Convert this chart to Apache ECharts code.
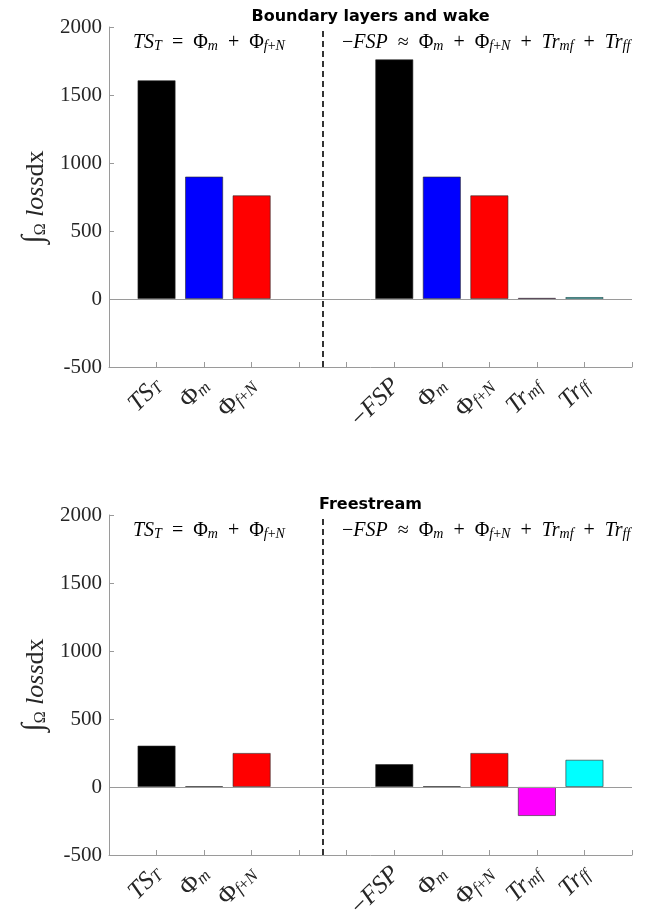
<!DOCTYPE html>
<html><head><meta charset="utf-8">
<script src="https://cdn.jsdelivr.net/npm/echarts@6/dist/echarts.min.js"></script>
<style>html,body{margin:0;padding:0;background:#fff}#c{width:648px;height:922px}</style>
</head><body><div id="c"></div>
<script>
// ---- data ----
const categories = ['TS_T', 'Phi_m', 'Phi_fN', '', '', 'mFSP', 'Phi_m', 'Phi_fN', 'Tr_mf', 'Tr_ff'];
const boundaryValues = [1608, 900, 762, null, null, 1762, 900, 762, 8, 14];
const freestreamValues = [304, 5, 250, null, null, 168, 5, 250, -213, 200];
const yTickValues = [-500, 0, 500, 1000, 1500, 2000];
const panelTitles = ['Boundary layers and wake', 'Freestream'];
const tickLabelText = {
  'TS_T': '{i|TS}{si|T}',
  'Phi_m': '{r|Φ}{si|m}',
  'Phi_fN': '{r|Φ}{si|f}{sr|+}{si|N}',
  'mFSP': '{r|−}{i|FSP}',
  'Tr_mf': '{i|Tr}{si|mf}',
  'Tr_ff': '{i|Tr}{si|ff}'
};
const leftEquation = '{i|TS}{si|T}{r|  =  Φ}{si|m}{r|  +  Φ}{si|f}{sr|+}{si|N}';
const rightEquation = '{r|−}{i|FSP}{r|  ≈  Φ}{si|m}{r|  +  Φ}{si|f}{sr|+}{si|N}{r|  +  }{i|Tr}{si|mf}{r|  +  }{i|Tr}{si|ff}';
const yAxisTitle = '{int|∫}{sub|Ω}{i| loss}{r|dx}';

// ---- styles ----
const barColors = {'TS_T':'#000000','mFSP':'#000000','Phi_m':'#0000ff','Phi_fN':'#ff0000','Tr_mf':'#ff00ff','Tr_ff':'#00ffff'};
const SERIF = 'Liberation Serif';
const axisGrey = '#9a9a9a';
const textCol = '#262626';

const mathRich = (big, small) => ({
  i: {fontFamily: SERIF, fontStyle: 'italic', fontSize: big, color: textCol, verticalAlign: 'bottom', lineHeight: big + 4},
  r: {fontFamily: SERIF, fontSize: big, color: textCol, verticalAlign: 'bottom', lineHeight: big + 4},
  si: {fontFamily: SERIF, fontStyle: 'italic', fontSize: small, color: textCol, verticalAlign: 'bottom', lineHeight: big},
  sr: {fontFamily: SERIF, fontSize: small, color: textCol, verticalAlign: 'bottom', lineHeight: big}
});

const emptyIdx = categories.map((c, i) => c === '' ? i + 1 : null).filter(v => v !== null);
const separatorAt = emptyIdx.reduce((a, b) => a + b, 0) / emptyIdx.length;
const yMin = Math.min(...yTickValues), yMax = Math.max(...yTickValues);
const yStep = yTickValues[1] - yTickValues[0];

const grids = [
  {left: 109, right: 16, top: 27, height: 340},
  {left: 109, right: 16, top: 515, height: 340}
];

function xAxisFor(gi) {
  return {
    type: 'value', gridIndex: gi, min: 0, max: categories.length + 1, interval: 1,
    splitLine: {show: false},
    axisLine: {onZero: false, lineStyle: {color: axisGrey, width: 1}},
    axisTick: {inside: true, length: 5, lineStyle: {color: axisGrey}},
    axisLabel: {
      rotate: 45, margin: 14,
      formatter: v => { const c = categories[v - 1]; return c ? tickLabelText[c] : ''; },
      rich: mathRich(25, 17)
    }
  };
}
function yAxisFor(gi) {
  return {
    type: 'value', gridIndex: gi, min: yMin, max: yMax, interval: yStep,
    splitLine: {show: false},
    axisLine: {show: true, onZero: false, lineStyle: {color: axisGrey, width: 1}},
    axisTick: {show: true, inside: true, length: 5, lineStyle: {color: axisGrey}},
    axisLabel: {fontFamily: SERIF, fontSize: 21, color: textCol, margin: 7, formatter: v => String(v)},
    name: yAxisTitle, nameLocation: 'middle', nameRotate: 90, nameGap: 56,
    nameTextStyle: {
      rich: {
        int: {fontFamily: SERIF, fontSize: 30, color: textCol, verticalAlign: 'bottom', lineHeight: 32},
        sub: {fontFamily: SERIF, fontSize: 16, color: textCol, verticalAlign: 'bottom', lineHeight: 26},
        i: {fontFamily: SERIF, fontStyle: 'italic', fontSize: 26, color: textCol, verticalAlign: 'bottom', lineHeight: 32},
        r: {fontFamily: SERIF, fontSize: 26, color: textCol, verticalAlign: 'bottom', lineHeight: 32}
      }
    }
  };
}
function seriesFor(gi, values) {
  const data = [];
  values.forEach((v, i) => {
    if (v === null) return;
    data.push({value: [i + 1, v], itemStyle: {color: barColors[categories[i]]}});
  });
  return {
    type: 'bar', xAxisIndex: gi, yAxisIndex: gi, data, barWidth: 38,
    itemStyle: {borderColor: 'rgba(40,40,40,0.75)', borderWidth: 0.8},
    emphasis: {disabled: true},
    markLine: {
      silent: true, symbol: 'none', animation: false,
      label: {show: false},
      data: [
        {xAxis: separatorAt, lineStyle: {type: [6, 4], color: '#000', width: 1.6}},
        {yAxis: 0, lineStyle: {type: 'solid', color: axisGrey, width: 1}}
      ]
    },
    z: 3
  };
}

const graphics = [];
grids.forEach((g, gi) => {
  const cx = g.left + (648 - g.left - g.right) / 2;
  graphics.push({type: 'text', x: cx, y: g.top - 18, style: {
    text: panelTitles[gi], font: 'bold 16px "DejaVu Sans"', fill: '#000', textAlign: 'center'}});
  graphics.push({type: 'text', x: 133, y: g.top + 2, style: {
    text: leftEquation, rich: mathRich(20, 14), textAlign: 'left'}});
  graphics.push({type: 'text', x: 342, y: g.top + 2, style: {
    text: rightEquation, rich: mathRich(20, 14), textAlign: 'left'}});
});

const chart = echarts.init(document.getElementById('c'), null, {renderer: 'canvas'});
chart.setOption({
  animation: false,
  backgroundColor: '#fff',
  grid: grids,
  xAxis: [xAxisFor(0), xAxisFor(1)],
  yAxis: [yAxisFor(0), yAxisFor(1)],
  series: [seriesFor(0, boundaryValues), seriesFor(1, freestreamValues)],
  graphic: graphics
});
</script></body></html>
